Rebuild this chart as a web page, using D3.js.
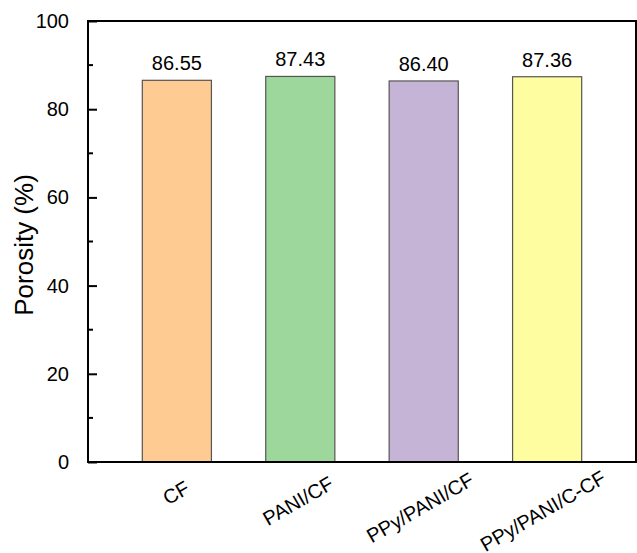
<!DOCTYPE html>
<html>
<head>
<meta charset="utf-8">
<script src="https://cdn.jsdelivr.net/npm/d3@7"></script>
<style>
  html, body { margin: 0; padding: 0; background: #fff; }
  svg text { font-family: Arial, "Liberation Sans", sans-serif; fill: #000; }
</style>
</head>
<body>
<svg id="chart" width="637" height="553"></svg>
<script>
  // data
  const samples = ['CF', 'PANI/CF', 'PPy/PANI/CF', 'PPy/PANI/C-CF'];
  const porosity = [86.55, 87.43, 86.40, 87.36];
  const barColors = ['#fecc92', '#9ed79c', '#c6b4d6', '#fefea0'];
  const yTicks = [0, 20, 40, 60, 80, 100];
  const yMinor = [10, 30, 50, 70, 90];

  (function () {
    let svg = d3.select('#chart'),
      pl = 88, pr = 636, pt = 21, pb = 462;

    let x = d3.scaleBand().domain(samples).range([pl, pr]).padding(0.44);
    let y = d3.scaleLinear().domain([0, 100]).range([pb, pt]);

    // bars
    svg.selectAll('rect.bar')
      .data(samples)
      .enter().append('rect')
      .attr('class', 'bar')
      .attr('x', d => x(d))
      .attr('width', x.bandwidth())
      .attr('y', (d, i) => y(porosity[i]))
      .attr('height', (d, i) => y(0) - y(porosity[i]))
      .attr('fill', (d, i) => barColors[i])
      .attr('stroke', '#555')
      .attr('stroke-width', 1.2);

    // value labels
    svg.selectAll('text.val')
      .data(samples)
      .enter().append('text')
      .attr('class', 'val')
      .attr('x', d => x(d) + x.bandwidth() / 2)
      .attr('y', (d, i) => y(porosity[i]) - 10)
      .attr('text-anchor', 'middle')
      .style('font-size', '20px')
      .text((d, i) => porosity[i].toFixed(2));

    // frame
    svg.append('rect')
      .attr('x', pl).attr('y', pt)
      .attr('width', pr - pl).attr('height', pb - pt)
      .attr('fill', 'none').attr('stroke', '#000').attr('stroke-width', 2);

    // left axis, ticks pointing inward
    let yAxis = d3.axisLeft(y).tickValues(yTicks).tickSize(-9).tickPadding(19).tickFormat(d3.format('d'));
    let gy = svg.append('g').attr('transform', 'translate(' + pl + ',0)').call(yAxis);
    gy.select('.domain').remove();
    gy.selectAll('.tick line').attr('stroke-width', 2);
    gy.selectAll('.tick text').style('font-size', '20px').attr('font-family', null);

    svg.append('g').selectAll('line')
      .data(yMinor)
      .enter().append('line')
      .attr('x1', pl).attr('x2', pl + 5)
      .attr('y1', d => y(d)).attr('y2', d => y(d))
      .attr('stroke', '#000').attr('stroke-width', 2);

    // rotated category labels
    svg.selectAll('text.cat')
      .data(samples)
      .enter().append('text')
      .attr('class', 'cat')
      .attr('text-anchor', 'middle')
      .attr('dominant-baseline', 'central')
      .style('font-size', '20px')
      .text(d => d)
      .attr('transform', function (d) {
        let L = this.getComputedTextLength();
        let cx = x(d) + x.bandwidth() / 2 - 0.03 * L;
        let cy = 488.5 + 0.16 * L;
        return 'translate(' + cx + ',' + cy + ') rotate(-30)';
      });

    // y title
    svg.append('text')
      .attr('transform', 'translate(33,245) rotate(-90)')
      .attr('text-anchor', 'middle')
      .style('font-size', '26px')
      .text('Porosity (%)');
  })();
</script>
</body>
</html>
